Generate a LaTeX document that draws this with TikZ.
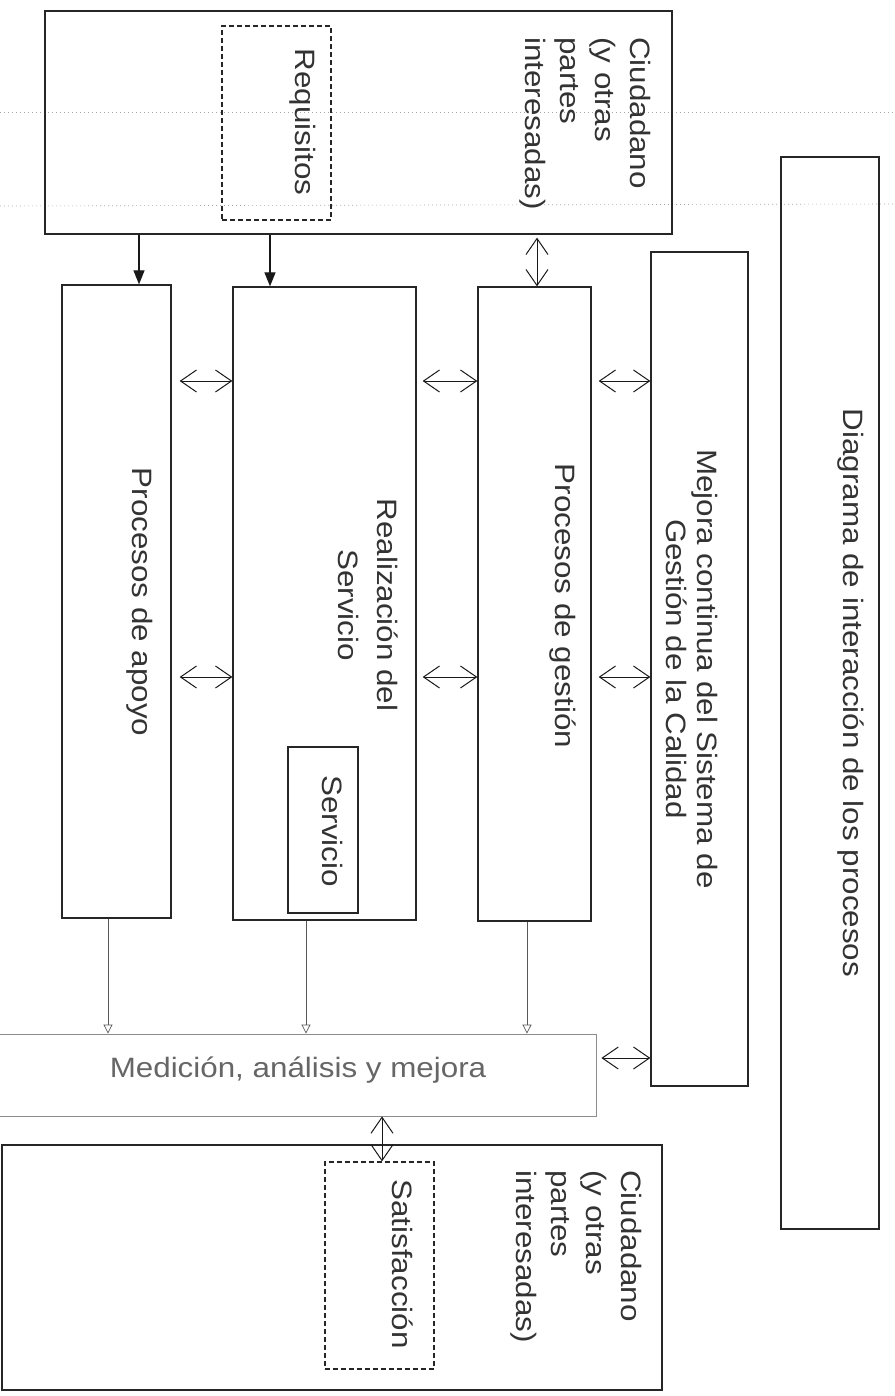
\documentclass[tikz,border=0pt]{standalone}
\usepackage{fontspec}
\setmainfont{Liberation Sans}
\newfontfamily\rotfont[FakeStretch=1.12]{Liberation Sans}
\newfontfamily\horfont[FakeStretch=1.12]{Liberation Sans}
\usetikzlibrary{arrows.meta}
\begin{document}
\begin{tikzpicture}[x=1pt,y=-1pt,
  box/.style={draw=black!85, line width=1.3pt, inner sep=0pt, fill=none},
  dbox/.style={draw=black!85, line width=1.2pt, inner sep=0pt, dash pattern=on 5pt off 3pt},
  gbox/.style={draw=black!45, line width=0.8pt, inner sep=0pt},
  rtext/.style={rotate=-90, inner sep=0pt, text=black!80, font=\rotfont\fontsize{28}{35}\selectfont},
  htext/.style={inner sep=0pt, text=black!60, font=\horfont\fontsize{28}{33}\selectfont},
  solidarr/.style={draw=black!90, line width=1.3pt, -{Triangle[length=14pt,width=11pt]}},
  dblarr/.style={draw=black!90, line width=1pt, {Straight Barb[length=16pt,width=22pt]}-{Straight Barb[length=16pt,width=22pt]}},
  smallarr/.style={draw=black!65, line width=0.7pt, -{Triangle[open,length=9pt,width=9pt]}},
  scanline/.style={draw=black!35, line width=0.6pt, dash pattern=on 1pt off 3pt}
]
\useasboundingbox (0,0) rectangle (894,1396);

% faint ruled lines of the scanned page
\draw[scanline] (0,112) -- (894,112);
\draw[scanline] (0,206) -- (894,204);

% boxes
\node[box, minimum width=627pt, minimum height=223pt] (top) at (358.5,122.5) {};
\node[dbox, minimum width=109pt, minimum height=194pt] (req) at (276.5,123) {};
\node[box, minimum width=109pt, minimum height=633pt] (apoyo) at (116.5,601.5) {};
\node[box, minimum width=183pt, minimum height=633pt] (realiz) at (324.5,603.5) {};
\node[box, minimum width=70pt, minimum height=166pt] (serv) at (323,830) {};
\node[box, minimum width=113pt, minimum height=634pt] (gestion) at (534.5,604) {};
\node[box, minimum width=97pt, minimum height=834pt] (mejora) at (699.5,669) {};
\node[box, minimum width=98pt, minimum height=1072pt] (diag) at (830,693) {};
\node[gbox, minimum width=601pt, minimum height=82pt] (medic) at (295.5,1075) {};
\node[box, minimum width=660pt, minimum height=245pt] (bottom) at (332,1267.5) {};
\node[dbox, minimum width=109pt, minimum height=207pt] (satis) at (379.5,1265.5) {};

% texts
\node[rtext, align=left, anchor=north west] (ciu1) at (651,37) {Ciudadano\\(y otras\\partes\\interesadas)};
\node[rtext, anchor=base] (reqt) at (295,122) {Requisitos};
\node[rtext, anchor=base] (apoyot) at (132,602) {Procesos de apoyo};
\node[rtext, align=center, anchor=north, font=\rotfont\fontsize{28}{39}\selectfont] (realt) at (398,605) {Realización del\\Servicio};
\node[rtext, anchor=base] (servt) at (322,831) {Servicio};
\node[rtext, anchor=base] (gestt) at (555,606) {Procesos de gestión};
\node[rtext, align=center, anchor=north, font=\rotfont\fontsize{28}{31}\selectfont] (mejt) at (718,669) {Mejora continua del Sistema de\\Gestión de la Calidad};
\node[rtext, anchor=base] (diagt) at (843,693) {Diagrama de interacción de los procesos};
\node[htext, anchor=base] (medt) at (298,1077) {Medición, análisis y mejora};
\node[rtext, anchor=base] (satt) at (392,1264) {Satisfacción};
\node[rtext, align=left, anchor=north west] (ciu2) at (642,1170) {Ciudadano\\(y otras\\partes\\interesadas)};

% guide coordinates for connector positions
\coordinate (xa1) at (139,0);
\coordinate (xa2) at (270,0);
\coordinate (xa3) at (537,0);
\coordinate (xd1) at (108,0);
\coordinate (xd2) at (306,0);
\coordinate (xd3) at (527,0);
\coordinate (xv) at (382,0);
\coordinate (yu) at (0,381);
\coordinate (yl) at (0,677);
\coordinate (ym) at (0,1058);

% connectors
\draw[solidarr] (top.south -| xa1) -- (apoyo.north -| xa1);
\draw[solidarr] (top.south -| xa2) -- (realiz.north -| xa2);
\draw[dblarr, shorten <=3pt] (top.south -| xa3) -- (gestion.north -| xa3);

\draw[dblarr, shorten <=8pt] (apoyo.east |- yu) -- (realiz.west |- yu);
\draw[dblarr, shorten <=6pt] (realiz.east |- yu) -- (gestion.west |- yu);
\draw[dblarr, shorten <=7pt] (gestion.east |- yu) -- (mejora.west |- yu);
\draw[dblarr, shorten <=8pt] (apoyo.east |- yl) -- (realiz.west |- yl);
\draw[dblarr, shorten <=6pt] (realiz.east |- yl) -- (gestion.west |- yl);
\draw[dblarr, shorten <=7pt] (gestion.east |- yl) -- (mejora.west |- yl);

\draw[smallarr] (apoyo.south -| xd1) -- (medic.north -| xd1);
\draw[smallarr] (realiz.south -| xd2) -- (medic.north -| xd2);
\draw[smallarr] (gestion.south -| xd3) -- (medic.north -| xd3);

\draw[dblarr, shorten <=5pt] (medic.east |- ym) -- (mejora.west |- ym);
\draw[dblarr] (medic.south -| xv) -- (satis.north -| xv);
\end{tikzpicture}
\end{document}
